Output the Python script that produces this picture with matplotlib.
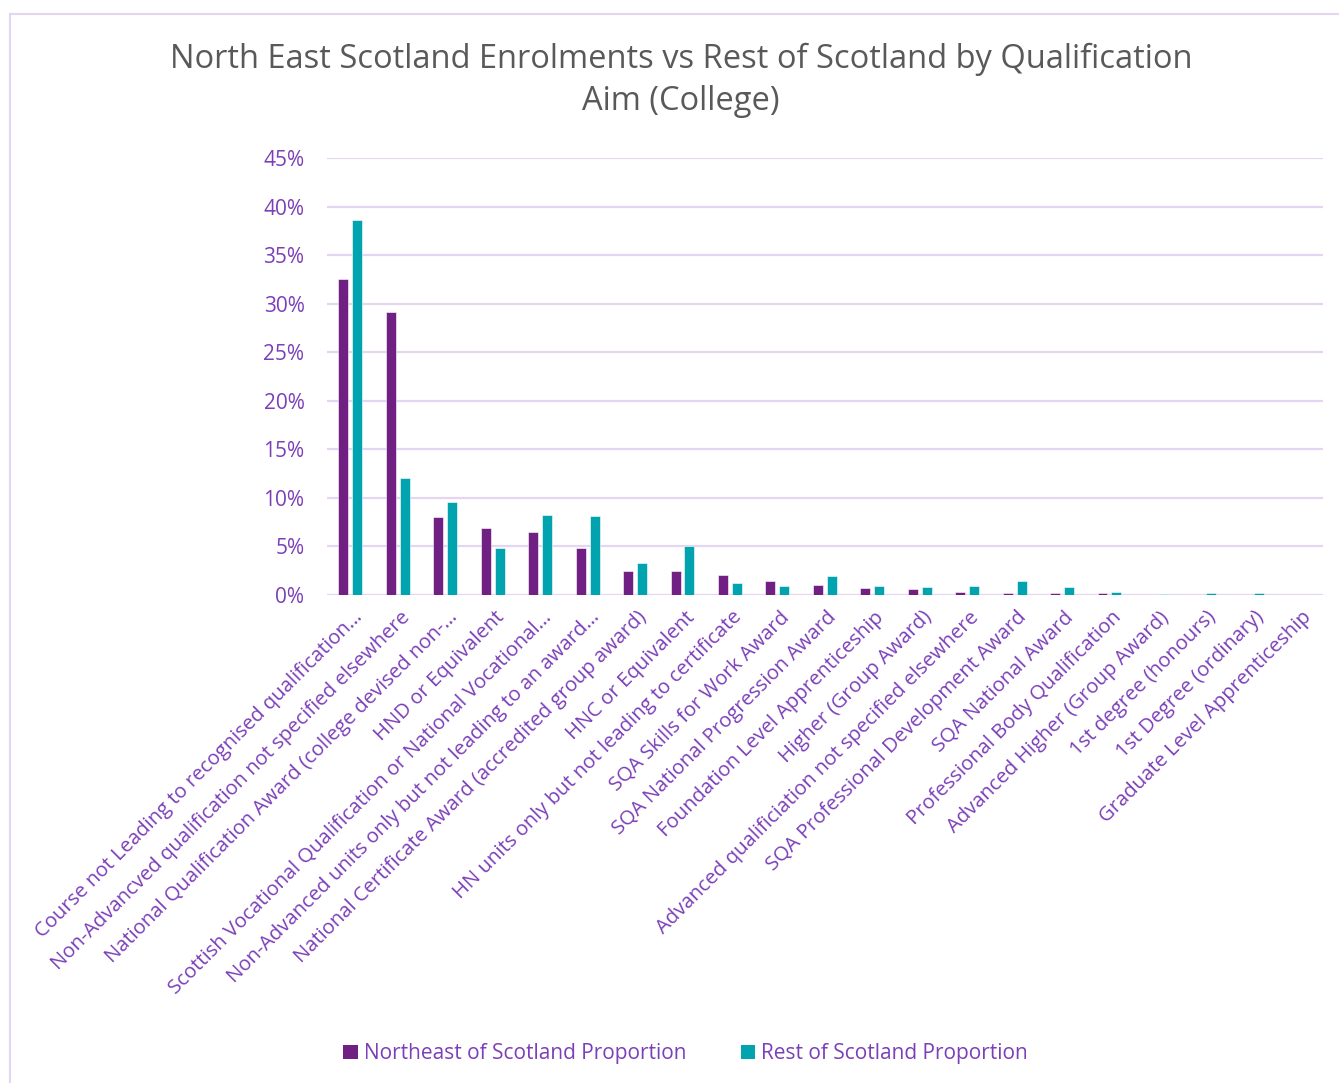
import numpy as np
import matplotlib
matplotlib.use('Agg')
import matplotlib.pyplot as plt
import matplotlib.transforms as mtransforms
from matplotlib.patches import Patch
from matplotlib.lines import Line2D
from matplotlib.ticker import PercentFormatter

plt.rcParams['font.family'] = ['Open Sans', 'DejaVu Sans']

# qualification aims (labels as they appear on the axis)
qualifications = [
    'Course not Leading to recognised qualification…',
    'Non-Advancved qualification not specified elsewhere',
    'National Qualification Award (college devised non-…',
    'HND or Equivalent',
    'Scottish Vocational Qualification or National Vocational…',
    'Non-Advanced units only but not leading to an award…',
    'National Certificate Award (accredited group award)',
    'HNC or Equivalent',
    'HN units only but not leading to certificate',
    'SQA Skills for Work Award',
    'SQA National Progression Award',
    'Foundation Level Apprenticeship',
    'Higher (Group Award)',
    'Advanced qualificiation not specified elsewhere',
    'SQA Professional Development Award',
    'SQA National Award',
    'Professional Body Qualification',
    'Advanced Higher (Group Award)',
    '1st degree (honours)',
    '1st Degree (ordinary)',
    'Graduate Level Apprenticeship',
]

# share of enrolments, in %
northeast = [32.5, 29.1, 8.0, 6.9, 6.5, 4.8, 2.5, 2.5, 2.07, 1.45, 1.0,
             0.72, 0.62, 0.31, 0.24, 0.2, 0.2, 0.01, 0.0, 0.0, 0.0]
rest = [38.6, 12.0, 9.6, 4.8, 8.2, 8.1, 3.3, 5.07, 1.24, 0.97, 1.97,
        0.9, 0.86, 0.93, 1.41, 0.86, 0.34, 0.07, 0.17, 0.17, 0.0]

PURPLE = '#702082'
TEAL = '#00A3AE'
TXT = '#7B3FB8'
GRID = '#E4D6F0'

fig = plt.figure(figsize=(13.39, 10.83), dpi=100)
ax = fig.add_axes([0.244, 0.4506, 0.744, 0.4035])

x = np.arange(len(qualifications))
w = 0.21
ax.bar(x - 0.147, northeast, w, color=PURPLE, edgecolor='white', linewidth=0.4, zorder=3)
ax.bar(x + 0.147, rest, w, color=TEAL, edgecolor='white', linewidth=0.4, zorder=3)

ax.set_ylim(0, 45)
ax.set_xlim(-0.5, len(qualifications) - 0.5)
ax.set_yticks(np.arange(0, 46, 5))
ax.yaxis.set_major_formatter(PercentFormatter(decimals=0))
ax.yaxis.grid(True, color=GRID, linewidth=1.6, zorder=0)
ax.set_axisbelow(True)
for s in ax.spines.values():
    s.set_visible(False)

ax.tick_params(axis='y', length=0, pad=16, labelsize=15, labelcolor=TXT)
ax.tick_params(axis='x', length=0, pad=14, labelsize=14.6, labelcolor=TXT)
ax.set_xticks(x)
ax.set_xticklabels(qualifications, rotation=45, ha='right', va='center',
                   rotation_mode='anchor')
# nudge the slanted labels a little to the right
shift = mtransforms.ScaledTranslation(9 / 100, 0, fig.dpi_scale_trans)
for lbl in ax.get_xticklabels():
    lbl.set_transform(lbl.get_transform() + shift)

fig.text(0.5086, 0.9257,
         'North East Scotland Enrolments vs Rest of Scotland by Qualification\nAim (College)',
         ha='center', va='center', fontsize=23.5, color='#595959', linespacing=1.36)

handles = [Patch(facecolor=PURPLE, label='Northeast of Scotland Proportion'),
           Patch(facecolor=TEAL, label='Rest of Scotland Proportion')]
fig.legend(handles=handles, loc='center', bbox_to_anchor=(0.512, 0.027), ncol=2,
           frameon=False, fontsize=15, labelcolor=TXT, handlelength=0.7,
           handleheight=0.7, handletextpad=0.3, columnspacing=2.6)

# chart border
fig.add_artist(Line2D([0.0075, 0.0075], [0, 0.987], color=GRID, linewidth=1.5))
fig.add_artist(Line2D([0.0075, 1.0], [0.987, 0.987], color=GRID, linewidth=1.5))

fig.savefig('out.png', dpi=100)
